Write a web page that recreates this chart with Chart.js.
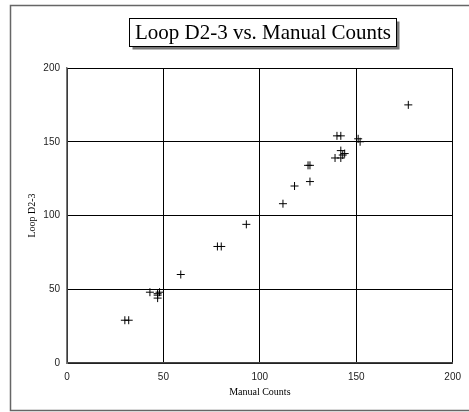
<!DOCTYPE html>
<html>
<head>
<meta charset="utf-8">
<script src="https://cdn.jsdelivr.net/npm/chart.js@4.4.1/dist/chart.umd.min.js"></script>
<style>
  html, body { margin: 0; padding: 0; background: #fff; overflow: hidden; }
  canvas { display: block; }
</style>
</head>
<body>
<canvas id="chart" width="469" height="412"></canvas>
<script>
var chartTitle = 'Loop D2-3 vs. Manual Counts';
var xTitle = 'Manual Counts';
var yTitle = 'Loop D2-3';
var xTicks = [0, 50, 100, 150, 200];
var yTicks = [0, 50, 100, 150, 200];

// manual counts vs loop counts
var manual = [177, 140, 142, 151, 152, 142, 144, 143, 142, 139, 125, 126, 118, 126, 112, 93, 78, 80, 59, 43, 47, 47, 48, 47, 30, 32];
var loop   = [175, 154, 154, 152, 150, 144, 142, 141, 139, 139, 134, 134, 120, 123, 108, 94, 79, 79, 60, 48, 44, 47, 48, 46, 29, 29];

var points = manual.map(function(x, i) {
  return { x: x, y: loop[i] };
});

var serif = "'Liberation Serif', 'Times New Roman', serif";
var sans = "'Liberation Sans', Arial, sans-serif";

// outer frame (runs off the right edge) and boxed title with drop shadow
var framePlugin = {
  id: 'frame',
  beforeDraw: function(chart) {
    var ctx = chart.ctx;
    ctx.save();
    ctx.fillStyle = '#fff';
    ctx.fillRect(0, 0, chart.width, chart.height);
    ctx.strokeStyle = '#666';
    ctx.lineWidth = 1.5;
    ctx.beginPath();
    ctx.moveTo(chart.width + 5, 5.5);
    ctx.lineTo(10.5, 5.5);
    ctx.lineTo(10.5, 410.5);
    ctx.lineTo(chart.width + 5, 410.5);
    ctx.stroke();
    ctx.restore();
  },
  afterDraw: function(chart) {
    var ctx = chart.ctx;
    ctx.save();
    var bx = 129.5, by = 18.5, bw = 267, bh = 28;
    ctx.fillStyle = '#777';
    ctx.fillRect(bx + 3, by + 3, bw, bh);
    ctx.fillStyle = '#fff';
    ctx.fillRect(bx, by, bw, bh);
    ctx.strokeStyle = '#000';
    ctx.lineWidth = 1;
    ctx.strokeRect(bx, by, bw, bh);
    ctx.fillStyle = '#000';
    ctx.font = '21px ' + serif;
    ctx.textAlign = 'center';
    ctx.textBaseline = 'middle';
    ctx.fillText(chartTitle, bx + bw / 2, by + bh / 2 + 1);
    ctx.restore();
  }
};

new Chart(document.getElementById('chart'), {
  type: 'scatter',
  data: {
    datasets: [{
      label: yTitle,
      data: points,
      pointStyle: 'cross',
      pointRadius: 4,
      pointHoverRadius: 4,
      borderColor: '#000',
      backgroundColor: '#000',
      borderWidth: 1
    }]
  },
  options: {
    responsive: false,
    animation: false,
    layout: { padding: { top: 68, right: 11, bottom: 14, left: 10 } },
    plugins: {
      legend: { display: false },
      tooltip: { enabled: false }
    },
    scales: {
      x: {
        type: 'linear',
        min: 0,
        max: 200,
        afterBuildTicks: function(scale) {
          scale.ticks = xTicks.map(function(v) { return { value: v }; });
        },
        afterFit: function(scale) { scale.height = 35; },
        grid: { color: '#000', lineWidth: 1, drawTicks: false },
        border: { color: '#444', width: 1.5 },
        ticks: { color: '#222', padding: 8, font: { family: sans, size: 10 } },
        title: {
          display: true,
          text: xTitle,
          color: '#000',
          padding: { top: 3, bottom: 0 },
          font: { family: serif, size: 10 }
        }
      },
      y: {
        type: 'linear',
        min: 0,
        max: 200,
        afterBuildTicks: function(scale) {
          scale.ticks = yTicks.map(function(v) { return { value: v }; });
        },
        afterFit: function(scale) { scale.width = 57; },
        grid: { color: '#000', lineWidth: 1, drawTicks: false },
        border: { color: '#777', width: 1.5 },
        ticks: { color: '#222', padding: 7, font: { family: sans, size: 10 } },
        title: {
          display: true,
          text: yTitle,
          color: '#000',
          padding: { top: 16, bottom: 4 },
          font: { family: serif, size: 10 }
        }
      }
    }
  },
  plugins: [framePlugin]
});
</script>
</body>
</html>
